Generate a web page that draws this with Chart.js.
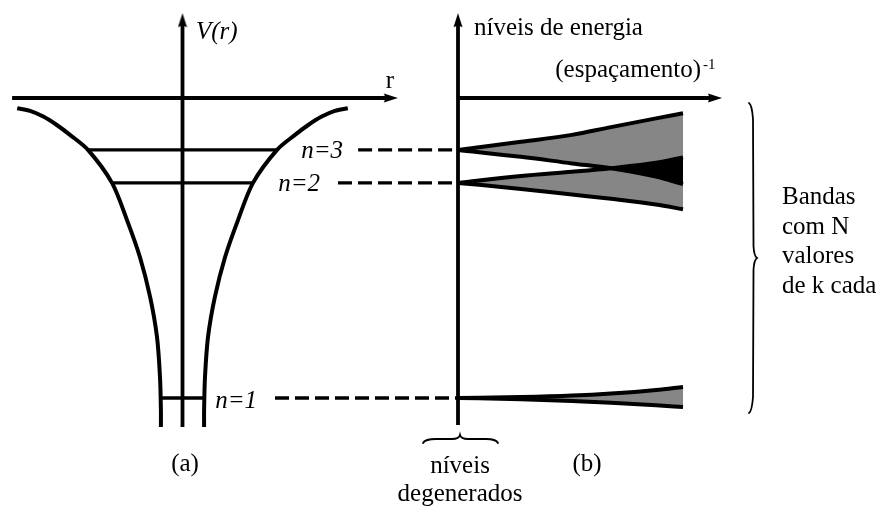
<!DOCTYPE html>
<html>
<head>
<meta charset="utf-8">
<script src="https://cdn.jsdelivr.net/npm/chart.js@4.4.1/dist/chart.umd.min.js"></script>
<style>
  html, body { margin: 0; padding: 0; background: #fff; }
  #wrap { width: 876px; height: 506px; }
</style>
</head>
<body>
<div id="wrap"><canvas id="bandChart"></canvas></div>
<script>
// --------------- Data (arbitrary units: r / (espaçamento)^-1 along x, energy along y) -----------------
const levelNames = ['n=1', 'n=2', 'n=3'];
const levelEnergy = [-10.0, -2.83, -1.73];
const levelHalfWidth = [0.72, 2.35, 3.15];   // r where each level meets the well
const dashStart = [-6.1, -4.0, -3.33];         // start of the dashed lead-in to panel (b)

// right half of the well V(r), the left half is its mirror
const wellR = [0.72, 0.72, 0.75, 0.85, 1.08, 1.42, 1.85, 2.35, 3.15, 3.75, 4.19, 4.64, 5.08, 5.51];
const wellV = [-10.97, -10.4, -9.3, -7.97, -6.63, -5.3, -4.07, -2.83, -1.73, -1.23, -0.9, -0.62, -0.43, -0.34];

// band edges against inverse spacing
const bandS = [0, 2.1, 3.8, 5.1, 6.6, 7.5];
const band1Upper = [-10.0, -9.97, -9.92, -9.85, -9.73, -9.63];
const band1Lower = [-10.0, -10.04, -10.1, -10.16, -10.24, -10.3];
const band2Upper = [-2.83, -2.6, -2.46, -2.34, -2.16, -1.98];
const band2Lower = [-2.83, -3.03, -3.22, -3.36, -3.55, -3.71];
const band3Upper = [-1.73, -1.46, -1.23, -0.97, -0.68, -0.51];
const band3Lower = [-1.73, -1.96, -2.18, -2.34, -2.62, -2.87];

// axes
const axisTop = 2.53;
const axisABottom = -10.97;
const axisBBottom = -10.9;
const rAxis = [-5.68, 6.88];
const sAxisEnd = 8.5;

// --------------- Styles -----------------
const INK = '#000';
const GRAY = '#868686';
const SERIF = '"Liberation Serif", "Times New Roman", serif';
const UNIT = 30; // pixels per unit on every axis

// arrowhead drawn once, tip sits 9px beyond the point
const arrowHead = document.createElement('canvas');
arrowHead.width = 10;
arrowHead.height = 28;
const actx = arrowHead.getContext('2d');
actx.fillStyle = INK;
actx.beginPath();
actx.moveTo(5, 5);
actx.lineTo(9.5, 19);
actx.lineTo(5, 17.5);
actx.lineTo(0.5, 19);
actx.closePath();
actx.fill();

const pts = (xs, ys) => xs.map((x, i) => ({ x, y: ys[i] }));

const ln = (data, axis, extra) => Object.assign({
  xAxisID: axis,
  data: data,
  borderColor: INK,
  borderWidth: 3.8,
  pointRadius: 0,
  tension: 0,
  fill: false
}, extra || {});

const edge = (ys, extra) => ln(pts(bandS, ys), 'xb', Object.assign({
  borderWidth: 4,
  cubicInterpolationMode: 'monotone'
}, extra || {}));

// --------------- Datasets -----------------
const datasets = [
  // 0-1 arrowheads
  { xAxisID: 'x', data: [{ x: 0, y: axisTop }, { x: rAxis[1], y: 0 }], showLine: false,
    pointStyle: arrowHead, pointRotation: [0, 90], pointRadius: 6 },
  { xAxisID: 'xb', data: [{ x: 0, y: axisTop }, { x: sAxisEnd, y: 0 }], showLine: false,
    pointStyle: arrowHead, pointRotation: [0, 90], pointRadius: 6 },
  // 2-7 bands (fills are painted from the last one back, so the black overlap ends on top)
  edge(band3Lower, { fill: { target: 4, above: 'rgba(0,0,0,0)', below: INK } }),
  edge(band3Upper, { fill: 2, backgroundColor: GRAY }),
  edge(band2Upper, { fill: 5, backgroundColor: GRAY }),
  edge(band2Lower),
  edge(band1Upper, { fill: 7, backgroundColor: GRAY }),
  edge(band1Lower),
  // potential well
  ln(pts(wellR, wellV), 'x', { tension: 0.3, borderWidth: 4 }),
  ln(pts(wellR.map(r => -r), wellV), 'x', { tension: 0.3, borderWidth: 4 }),
  // axes
  ln([{ x: 0, y: axisABottom }, { x: 0, y: axisTop }], 'x'),
  ln([{ x: rAxis[0], y: 0 }, { x: rAxis[1], y: 0 }], 'x'),
  ln([{ x: 0, y: axisBBottom }, { x: 0, y: axisTop }], 'xb'),
  ln([{ x: 0, y: 0 }, { x: sAxisEnd, y: 0 }], 'xb')
];

levelEnergy.forEach((e, i) => {
  datasets.push(ln([{ x: -levelHalfWidth[i], y: e }, { x: levelHalfWidth[i], y: e }], 'x', { borderWidth: 3.4 }));
  datasets.push(ln([{ x: dashStart[i], y: e }, { x: 0, y: e }], 'xb', { borderWidth: 3.4, borderDash: [14, 6] }));
});

// --------------- Text and braces -----------------
const texts = [
  { t: 'V(r)', x: 196, y: 39, it: true },
  { t: 'r', x: 390, y: 88, al: 'center' },
  { t: 'níveis de energia', x: 474, y: 35 },
  { t: '(espaçamento)', x: 701, y: 77, al: 'right' },
  { t: '-1', x: 703, y: 69, size: 15 },
  { t: levelNames[2], x: 343, y: 158, it: true, al: 'right' },
  { t: levelNames[1], x: 320, y: 191, it: true, al: 'right' },
  { t: levelNames[0], x: 257, y: 408, it: true, al: 'right' },
  { t: '(a)', x: 185, y: 471, al: 'center' },
  { t: '(b)', x: 587, y: 471, al: 'center' },
  { t: 'níveis', x: 460, y: 473, al: 'center' },
  { t: 'degenerados', x: 460, y: 501, al: 'center' },
  { t: 'Bandas', x: 782, y: 204 },
  { t: 'com N', x: 782, y: 234 },
  { t: 'valores', x: 782, y: 263 },
  { t: 'de k cada', x: 782, y: 293 }
];

const annotations = {
  id: 'annotations',
  afterDraw(chart) {
    const ctx = chart.ctx;
    ctx.save();
    ctx.fillStyle = INK;
    ctx.textBaseline = 'alphabetic';
    texts.forEach(d => {
      ctx.font = (d.it ? 'italic ' : '') + (d.size || 25) + 'px ' + SERIF;
      ctx.textAlign = d.al || 'left';
      ctx.fillText(d.t, d.x, d.y);
    });

    ctx.strokeStyle = INK;
    ctx.lineWidth = 1.8;
    ctx.lineCap = 'round';

    // brace on the right of the bands
    const bx = 752, top = 103, bot = 413, mid = 258;
    ctx.beginPath();
    ctx.moveTo(bx - 3, top);
    ctx.quadraticCurveTo(bx, top + 2, bx + 1, top + 16);
    ctx.lineTo(bx + 1.5, mid - 12);
    ctx.quadraticCurveTo(bx + 2, mid - 2, bx + 5, mid);
    ctx.quadraticCurveTo(bx + 2, mid + 2, bx + 1.5, mid + 12);
    ctx.lineTo(bx + 1, bot - 16);
    ctx.quadraticCurveTo(bx, bot - 2, bx - 3, bot);
    ctx.stroke();

    // brace under the degenerate levels
    const y = 439;
    ctx.beginPath();
    ctx.moveTo(423, 443);
    ctx.quadraticCurveTo(425, y, 436, y);
    ctx.lineTo(452, y);
    ctx.quadraticCurveTo(459, y, 460, y - 4);
    ctx.quadraticCurveTo(461, y, 468, y);
    ctx.lineTo(486, y);
    ctx.quadraticCurveTo(496, y, 498, 443);
    ctx.stroke();
    ctx.restore();
  }
};

// --------------- Chart -----------------
new Chart(document.getElementById('bandChart'), {
  type: 'line',
  data: { datasets: datasets },
  plugins: [annotations],
  options: {
    responsive: true,
    maintainAspectRatio: false,
    animation: false,
    events: [],
    layout: { padding: 0, autoPadding: false },
    plugins: {
      legend: { display: false },
      tooltip: { enabled: false },
      filler: { drawTime: 'beforeDatasetsDraw' }
    },
    scales: {
      x: { type: 'linear', axis: 'x', display: false, min: -182.5 / UNIT, max: (876 - 182.5) / UNIT },
      xb: { type: 'linear', axis: 'x', display: false, min: -458 / UNIT, max: (876 - 458) / UNIT },
      y: { type: 'linear', display: false, min: -(506 - 98) / UNIT, max: 98 / UNIT }
    }
  }
});
</script>
</body>
</html>
